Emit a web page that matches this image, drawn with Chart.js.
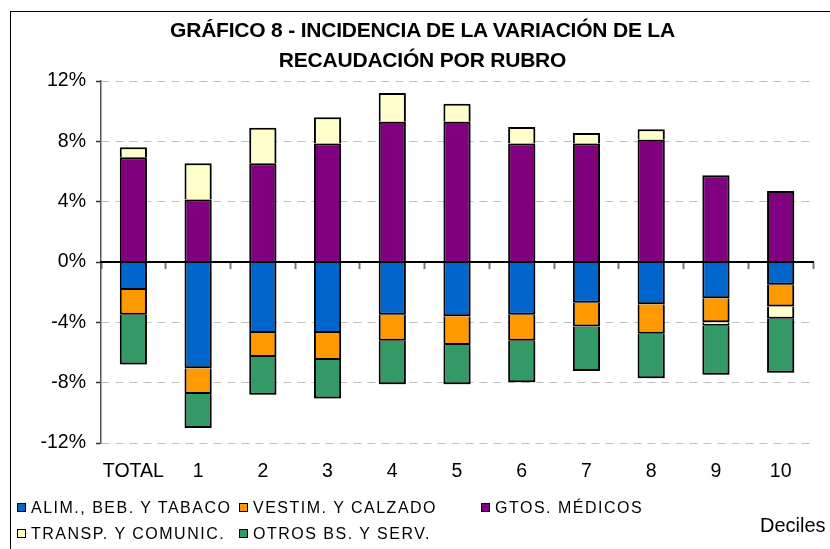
<!DOCTYPE html>
<html>
<head>
<meta charset="utf-8">
<script src="https://cdn.jsdelivr.net/npm/chart.js@4"></script>
<style>
  body { margin: 0; background: #fff; font-family: "Liberation Sans", Arial, sans-serif; }
  #wrap { position: relative; width: 830px; height: 549px; overflow: hidden; }
  #frame { position: absolute; left: 10px; top: 11px; width: 900px; height: 600px; border-left: 1.5px solid #000; border-top: 1.5px solid #000; }
  #title { position: absolute; left: 10px; width: 825px; top: 15px; text-align: center; font-weight: bold; font-size: 21px; line-height: 30px; letter-spacing: -0.2px; }
  canvas { position: absolute; left: 0; top: 0; }
  .leg { position: absolute; font-size: 16px; letter-spacing: 1.5px; line-height: 20px; white-space: nowrap; }
  .leg i { display: inline-block; width: 7px; height: 7px; border: 1px solid #000; margin-right: 5px; vertical-align: 1px; }
  #deciles { position: absolute; left: 760px; top: 514px; font-size: 20px; }
</style>
</head>
<body>
<div id="wrap">
  <div id="frame"></div>
  <canvas id="chart" width="830" height="549"></canvas>
  <div id="title">GRÁFICO 8 - INCIDENCIA DE LA VARIACIÓN DE LA<br>RECAUDACIÓN POR RUBRO</div>
  <div id="legend"></div>
  <div id="deciles">Deciles</div>
</div>
<script>
const categories = ['TOTAL', '1', '2', '3', '4', '5', '6', '7', '8', '9', '10'];
const seriesNames = ['ALIM., BEB. Y TABACO', 'VESTIM. Y CALZADO', 'GTOS. MÉDICOS', 'TRANSP. Y COMUNIC.', 'OTROS BS. Y SERV.'];
const seriesColors = ['#0066cc', '#ff9900', '#800080', '#ffffcc', '#339966'];

const alim    = [-1.85, -7.05, -4.7, -4.7, -3.5, -3.6, -3.5, -2.7, -2.8, -2.4, -1.5];
const vestim  = [-1.65, -1.7, -1.6, -1.8, -1.72, -1.9, -1.72, -1.58, -1.95, -1.6, -1.45];
const medicos = [6.95, 4.15, 6.55, 7.85, 9.3, 9.3, 7.85, 7.85, 8.1, 5.75, 4.7];
const transp  = [0.65, 2.4, 2.35, 1.75, 1.9, 1.2, 1.1, 0.7, 0.7, -0.22, -0.82];
const otros   = [-3.3, -2.25, -2.5, -2.55, -2.88, -2.6, -2.76, -2.95, -2.95, -3.25, -3.57];

const yTicks = [-12, -8, -4, 0, 4, 8, 12];

// legend in two rows, column aligned like the original
const legendPos = [[17, 498], [239, 498], [481, 498], [17, 524], [239, 524]];
document.getElementById('legend').innerHTML = seriesNames.map((n, i) =>
  `<div class="leg" style="left:${legendPos[i][0]}px;top:${legendPos[i][1]}px"><i style="background:${seriesColors[i]}"></i>${n}</div>`
).join('');

const font = { family: '"Liberation Sans", Arial, sans-serif', size: 19.5 };
const values = [alim, vestim, medicos, transp, otros];

// light drop shadow behind the bars, as in the Excel original
const barShadow = {
  id: 'barShadow',
  beforeDatasetsDraw(chart) {
    const ctx = chart.ctx;
    ctx.save();
    ctx.shadowColor = 'rgba(0,0,0,0.28)';
    ctx.shadowOffsetX = 2;
    ctx.shadowOffsetY = 2;
    ctx.shadowBlur = 0;
  },
  afterDatasetsDraw(chart) { chart.ctx.restore(); },
};

new Chart(document.getElementById('chart'), {
  type: 'bar',
  data: {
    labels: categories,
    datasets: values.map((v, i) => ({
      label: seriesNames[i],
      data: v,
      backgroundColor: seriesColors[i],
      borderColor: '#000',
      borderWidth: 2,
      categoryPercentage: 1,
      barPercentage: 0.42,
    })),
  },
  options: {
    responsive: false,
    animation: false,
    layout: { padding: { left: 0, right: 17, top: 81, bottom: 66 } },
    plugins: { legend: { display: false }, tooltip: { enabled: false } },
    scales: {
      x: {
        stacked: true,
        grid: { display: false, drawTicks: false },
        border: { display: false },
        ticks: { color: '#000', font, padding: 17, maxRotation: 0, minRotation: 0, autoSkip: false },
        afterFit: s => { s.height = 40; },
      },
      x2: {
        type: 'category',
        labels: categories,
        position: { y: 0 },
        offset: true,
        ticks: { display: false },
        grid: { offset: true, drawOnChartArea: false, tickLength: 6, tickColor: '#777', tickWidth: 2 },
        border: { color: '#000', width: 2, z: 1 },
      },
      y: {
        stacked: true,
        min: -12,
        max: 12,
        afterBuildTicks: s => { s.ticks = yTicks.map(v => ({ value: v })); },
        ticks: { color: '#000', font, padding: 10, callback: v => v + '%' },
        grid: { color: '#c0c0c0', lineWidth: 1, tickLength: 5, tickColor: '#333', tickWidth: 1.5 },
        border: { color: '#555', width: 1.5, dash: [8, 6] },
        afterFit: s => { s.width = 101; },
      },
    },
  },
  plugins: [barShadow],
});
</script>
</body>
</html>
